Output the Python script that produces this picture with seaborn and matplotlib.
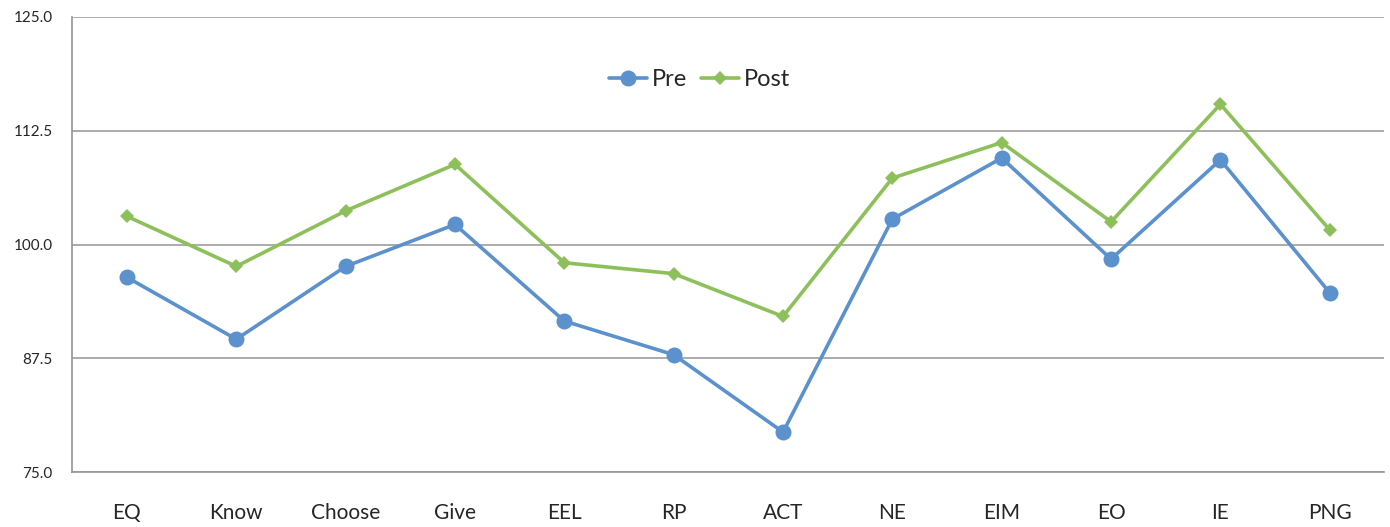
import pandas as pd
import matplotlib
matplotlib.use("Agg")
import matplotlib.pyplot as plt
import seaborn as sns

# ==========================================
# DATA
# ==========================================
scales = ["EQ", "Know", "Choose", "Give", "EEL", "RP", "ACT",
          "NE", "EIM", "EO", "IE", "PNG"]
pre = [96.4, 89.6, 97.6, 102.2, 91.6, 87.9, 79.4,
       102.8, 109.5, 98.4, 109.3, 94.7]
post = [103.1, 97.6, 103.7, 108.8, 98.0, 96.8, 92.1,
        107.3, 111.2, 102.5, 115.4, 101.6]
y_ticks = [75.0, 87.5, 100.0, 112.5, 125.0]

df = pd.DataFrame({
    "Scale": scales * 2,
    "Score": pre + post,
    "Time": ["Pre"] * len(scales) + ["Post"] * len(scales),
})

# ==========================================
# PLOT
# ==========================================
sns.set_style("white")
plt.rcParams["font.family"] = ["Lato", "DejaVu Sans"]

fig = plt.figure(figsize=(13.9, 5.27), dpi=100)
ax = fig.add_axes([0.052, 0.104, 0.944, 0.864])

palette = {"Pre": "#5B91CC", "Post": "#8DC05A"}
for name, marker, ms in [("Pre", "o", 11.5), ("Post", "D", 7.5)]:
    sub = df[df["Time"] == name]
    sns.lineplot(data=sub, x="Scale", y="Score", ax=ax, color=palette[name],
                 marker=marker, markersize=ms, markeredgewidth=0,
                 linewidth=2.6, label=name, sort=False)

ax.set_xlim(-0.5, len(scales) - 0.5)
ax.set_ylim(75, 125)
ax.set_yticks(y_ticks)
ax.set_yticklabels([f"{v:.1f}" for v in y_ticks], fontsize=11)
ax.set_xticks(range(len(scales)))
ax.set_xticklabels(scales, fontsize=15)
ax.set_xticks([i - 0.5 for i in range(len(scales) + 1)], minor=True)
ax.tick_params(axis="x", which="major", length=0, pad=22)
ax.tick_params(axis="x", which="minor", length=7, color="#959595", width=1.2)
ax.tick_params(axis="y", length=6, color="#959595", width=1.2, pad=8)
ax.grid(axis="y", color="#959595", linewidth=1.1)
ax.set_axisbelow(True)
ax.set_xlabel("")
ax.set_ylabel("")

for side in ["top", "right"]:
    ax.spines[side].set_visible(False)
for side in ["left", "bottom"]:
    ax.spines[side].set_color("#959595")
    ax.spines[side].set_linewidth(1.2)

ax.legend(loc="center", bbox_to_anchor=(0.478, 0.862), ncol=2, frameon=False,
          fontsize=17, handlelength=1.6, columnspacing=0.6, handletextpad=0.2)

fig.savefig("out.png", dpi=100)
